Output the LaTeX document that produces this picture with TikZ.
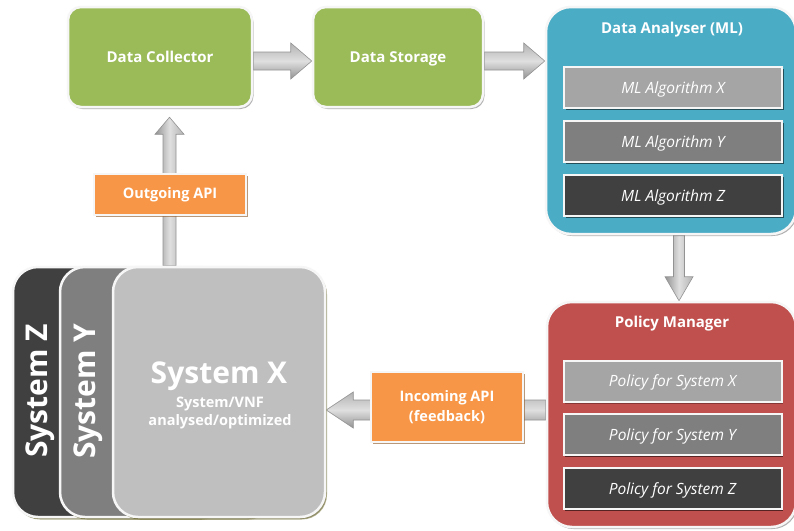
\documentclass[tikz,border=0pt]{standalone}
\usepackage{fontspec}
\setmainfont{Open Sans}
\usetikzlibrary{calc,shadows}
\definecolor{cgreen}{HTML}{9BBB59}
\definecolor{cblue}{HTML}{4BACC6}
\definecolor{cred}{HTML}{C0504D}
\definecolor{corange}{HTML}{F79646}
\definecolor{gA}{HTML}{A5A5A5}
\definecolor{gB}{HTML}{7F7F7F}
\definecolor{gC}{HTML}{404040}
\definecolor{gX}{HTML}{BFBFBF}
\pgfdeclarelayer{background}
\pgfdeclarelayer{canvas}
\pgfsetlayers{canvas,background,main}
\tikzset{
  box/.style={draw=white!93!gray, line width=2.5pt, inner sep=0pt, text=white,
    drop shadow={shadow xshift=1.5pt, shadow yshift=-2pt, fill=black, opacity=0.3}},
  greenbox/.style={box, fill=cgreen, rounded corners=13pt, minimum width=184pt, minimum height=100pt,
    text height=11pt, text depth=0pt, font=\bfseries\fontsize{15}{18}\selectfont},
  bigbox/.style={box, rounded corners=25pt},
  subbox/.style={box, rounded corners=0pt, line width=2pt, minimum width=218pt, minimum height=41pt,
    text height=11pt, text depth=0pt, font=\itshape\fontsize{15.5}{18}\selectfont,
    drop shadow={shadow xshift=1.5pt, shadow yshift=-1.5pt, fill=black, opacity=0.35}},
  apibox/.style={box, fill=corange, rounded corners=0pt, line width=2pt, minimum width=152pt, align=center, font=\bfseries\fontsize{14.5}{20}\selectfont,
    drop shadow={shadow xshift=1.5pt, shadow yshift=-1.5pt, fill=brown, opacity=0.5}},
  sysbox/.style={box, rounded corners=25pt, minimum width=212pt, minimum height=250pt,
    drop shadow={shadow xshift=2pt, shadow yshift=-2.5pt, fill=olive!70!black, opacity=0.5}},
  title/.style={text=white, font=\bfseries\fontsize{15}{18}\selectfont, inner sep=0pt, text height=11pt, text depth=0pt},
  harr/.style={draw=gray!85, line width=0.6pt, top color=gray!60, bottom color=gray!85, middle color=gray!25},
  varr/.style={draw=gray!85, line width=0.6pt, left color=gray!85, right color=gray!60, middle color=gray!25},
}
% #1 style, #2 start, #3 tip, #4 shaft half width, #5 head half width, #6 head length
\newcommand{\blockarr}[6]{%
  \path ($(#3)!#6!(#2)$) coordinate (ba-h);
  \shade[#1] ($(#2)!#4!90:(#3)$) -- ($(ba-h)!#4!90:(#3)$) -- ($(ba-h)!#5!90:(#3)$) -- (#3)
    -- ($(ba-h)!#5!-90:(#3)$) -- ($(ba-h)!#4!-90:(#3)$) -- ($(#2)!#4!-90:(#3)$) -- cycle;
}
\begin{document}
\begin{tikzpicture}[x=1pt,y=-1pt]
\begin{pgfonlayer}{canvas}
\fill[white] (0,0) rectangle (794,530);
\end{pgfonlayer}
\useasboundingbox (0,0) rectangle (794,530);

% top row
\node[greenbox] (dc) at (160,57) {Data Collector};
\node[greenbox, minimum width=170pt] (ds) at (398,57) {Data Storage};

% data analyser
\node[bigbox, fill=cblue, minimum width=250pt, minimum height=227pt] (da) at (671,120.5) {};
\node[title] (dat) at (672,28) {Data Analyser (ML)};
\node[subbox, fill=gA] (mlx) at (673,87.5) {ML Algorithm X};
\node[subbox, fill=gB] (mly) at (673,141.5) {ML Algorithm Y};
\node[subbox, fill=gC] (mlz) at (673,195.5) {ML Algorithm Z};

% policy manager
\node[bigbox, fill=cred, minimum width=249pt, minimum height=225pt] (pm) at (671.5,414.5) {};
\node[title] (pmt) at (672,322) {Policy Manager};
\node[subbox, fill=gA] (polx) at (672.5,381) {Policy for System X};
\node[subbox, fill=gB] (poly) at (672.5,434.5) {Policy for System Y};
\node[subbox, fill=gC] (polz) at (672.5,488.5) {Policy for System Z};

% systems
\node[sysbox, fill=gC] (sysz) at (119,392) {};
\node[sysbox, fill=gB] (sysy) at (166,392) {};
\node[sysbox, fill=gX] (sysx) at (219,392) {};
\node[rotate=90, text=white, font=\bfseries\fontsize{30}{34}\selectfont, inner sep=0pt] (sysztxt) at (40,391) {System Z};
\node[rotate=90, text=white, font=\bfseries\fontsize{30}{34}\selectfont, inner sep=0pt] (sysytxt) at (88,391) {System Y};
\node[text=white, font=\bfseries\fontsize{30}{34}\selectfont, inner sep=0pt, text height=21pt, text depth=0pt] (sysxtxt) at (219,373) {System X};
\node[text=white, font=\bfseries\fontsize{14.5}{18}\selectfont, align=center, inner sep=0pt] (sysxsub) at (220,413) {System/VNF\\analysed/optimized};

% API boxes
\node[apibox, minimum height=41pt] (outapi) at (170,194.5) {Outgoing API};
\node[apibox, minimum height=70pt] (inapi) at (447,407) {Incoming API\\(feedback)};

% arrows
\path ($(dc.east)+(0,4)$) coordinate (a1s) ($(ds.west)+(0,4)$) coordinate (a1t);
\path ($(ds.east)+(0,4)$) coordinate (a2s) (a2s -| da.west) coordinate (a2t);
\path ($(da.south)+(8,0)$) coordinate (a3s) (a3s |- pm.north) coordinate (a3t);
\path ($(pm.west)+(0,-4.5)$) coordinate (a4s) (a4s -| sysx.east) coordinate (a4t);
\path ($(dc.south)+(9.5,9)$) coordinate (a5t) (a5t |- sysx.north) coordinate (a5s);
\begin{pgfonlayer}{background}
\blockarr{harr}{a1s}{a1t}{9pt}{18pt}{21pt}
\blockarr{harr}{a2s}{a2t}{9pt}{18pt}{21pt}
\blockarr{varr}{a3s}{a3t}{5.5pt}{14pt}{24pt}
\blockarr{harr}{a4s}{a4t}{10pt}{18pt}{27pt}
\blockarr{varr}{a5s}{a5t}{6.5pt}{14.5pt}{17pt}
\end{pgfonlayer}
\end{tikzpicture}
\end{document}
